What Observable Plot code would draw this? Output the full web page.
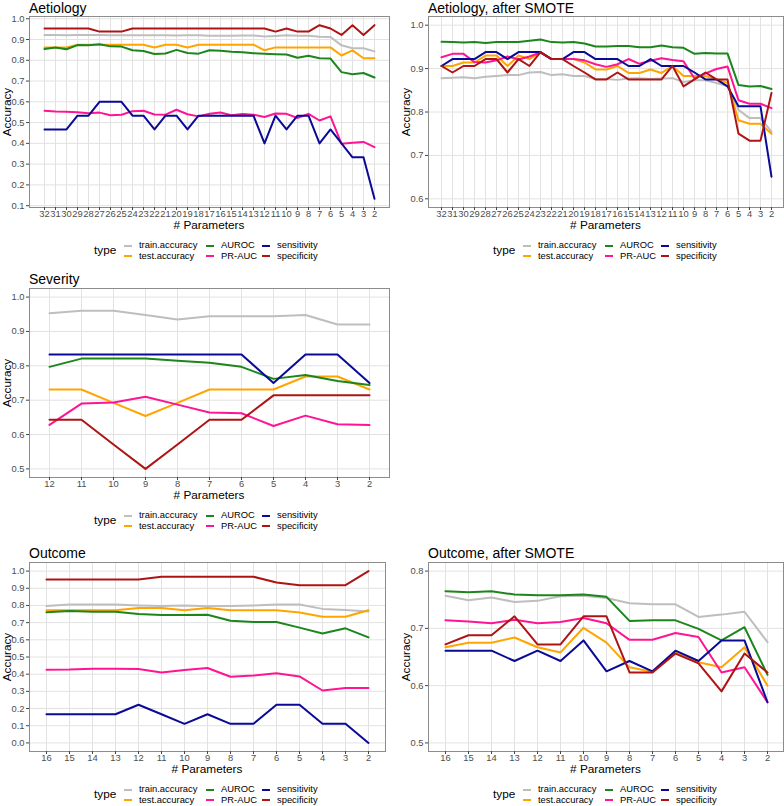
<!DOCTYPE html>
<html>
<head>
<meta charset="utf-8">
<script src="https://cdn.jsdelivr.net/npm/d3@7"></script>
<script src="https://cdn.jsdelivr.net/npm/@observablehq/plot@0.6"></script>
<style>
  body { margin: 0; background: #fff; }
  #root { position: relative; width: 784px; height: 806px; overflow: hidden; background: #fff;
          font-family: "Liberation Sans", Arial, Helvetica, sans-serif; color: #000; }
  .abs { position: absolute; white-space: nowrap; }
</style>
</head>
<body>
<div id="root"></div>
<script>
// ---------- series types ----------
const types = ["train.accuracy", "test.accuracy", "AUROC", "PR-AUC", "sensitivity", "specificity"];
const typeColors = ["#BEBEBE", "#FFA500", "#1C861C", "#FF1493", "#0A0A96", "#AE1414"];

// ---------- Aetiology ----------
const aetParams = [32,31,30,29,28,27,26,25,24,23,22,21,20,19,18,17,16,15,14,13,12,11,10,9,8,7,6,5,4,3,2];
const aetTrain = [0.922,0.922,0.921,0.922,0.922,0.922,0.921,0.921,0.920,0.920,0.920,0.920,0.919,0.920,0.921,0.918,0.918,0.918,0.919,0.919,0.915,0.917,0.920,0.918,0.918,0.913,0.912,0.872,0.858,0.858,0.843];
const aetTest  = [0.862,0.862,0.862,0.875,0.875,0.875,0.875,0.875,0.875,0.875,0.862,0.875,0.875,0.862,0.875,0.875,0.875,0.875,0.875,0.875,0.848,0.862,0.862,0.862,0.862,0.862,0.862,0.823,0.848,0.810,0.810];
const aetAuroc = [0.854,0.862,0.853,0.873,0.872,0.877,0.867,0.866,0.848,0.845,0.830,0.833,0.850,0.835,0.832,0.848,0.846,0.841,0.839,0.834,0.831,0.829,0.828,0.812,0.822,0.810,0.808,0.743,0.733,0.739,0.717];
const aetPr    = [0.557,0.553,0.552,0.550,0.545,0.548,0.535,0.538,0.555,0.557,0.539,0.538,0.562,0.540,0.530,0.543,0.549,0.535,0.541,0.538,0.527,0.544,0.542,0.522,0.542,0.510,0.530,0.398,0.403,0.407,0.382];
const aetSens  = [0.467,0.467,0.467,0.533,0.533,0.600,0.600,0.600,0.533,0.533,0.467,0.533,0.533,0.467,0.533,0.533,0.533,0.533,0.533,0.533,0.400,0.533,0.467,0.533,0.533,0.400,0.467,0.400,0.333,0.333,0.133];
const aetSpec  = [0.953,0.953,0.953,0.953,0.953,0.938,0.938,0.938,0.953,0.953,0.953,0.953,0.953,0.953,0.953,0.953,0.953,0.953,0.953,0.953,0.953,0.938,0.953,0.938,0.938,0.969,0.953,0.922,0.969,0.922,0.969];
const aetTicks = [0.1,0.2,0.3,0.4,0.5,0.6,0.7,0.8,0.9,1.0];

// ---------- Aetiology, after SMOTE ----------
const smAetParams = [32,31,30,29,28,27,26,25,24,23,22,21,20,19,18,17,16,15,14,13,12,11,10,9,8,7,6,5,4,3,2];
const smAetTrain = [0.878,0.879,0.880,0.878,0.881,0.883,0.885,0.885,0.891,0.892,0.885,0.887,0.883,0.883,0.876,0.876,0.874,0.877,0.878,0.876,0.877,0.878,0.869,0.873,0.873,0.867,0.860,0.805,0.786,0.786,0.755];
const smAetTest  = [0.906,0.906,0.914,0.914,0.930,0.930,0.906,0.930,0.922,0.938,0.922,0.922,0.922,0.914,0.898,0.898,0.906,0.890,0.890,0.898,0.890,0.906,0.883,0.883,0.883,0.875,0.867,0.781,0.773,0.773,0.750];
const smAetAuroc = [0.962,0.961,0.960,0.961,0.959,0.961,0.961,0.961,0.964,0.967,0.961,0.960,0.961,0.958,0.951,0.951,0.952,0.952,0.949,0.949,0.953,0.949,0.948,0.934,0.936,0.935,0.935,0.862,0.859,0.860,0.853];
const smAetPr    = [0.926,0.934,0.934,0.915,0.914,0.919,0.928,0.921,0.928,0.937,0.922,0.922,0.922,0.919,0.910,0.904,0.910,0.922,0.911,0.918,0.924,0.920,0.917,0.877,0.889,0.899,0.905,0.827,0.819,0.819,0.809];
const smAetSens  = [0.906,0.922,0.922,0.922,0.938,0.938,0.922,0.938,0.938,0.938,0.922,0.922,0.938,0.938,0.922,0.922,0.922,0.906,0.906,0.922,0.906,0.906,0.906,0.891,0.875,0.875,0.859,0.813,0.813,0.813,0.651];
const smAetSpec  = [0.906,0.891,0.906,0.906,0.922,0.922,0.891,0.922,0.906,0.938,0.922,0.922,0.906,0.891,0.875,0.875,0.891,0.875,0.875,0.875,0.875,0.906,0.859,0.875,0.891,0.875,0.875,0.750,0.734,0.734,0.844];
const smAetTicks = [0.6,0.7,0.8,0.9,1.0];

// ---------- Severity ----------
const sevParams = [12,11,10,9,8,7,6,5,4,3,2];
const sevTrain = [0.953,0.960,0.960,0.948,0.935,0.944,0.944,0.944,0.948,0.920,0.920];
const sevTest  = [0.731,0.731,0.692,0.654,0.692,0.731,0.731,0.731,0.769,0.769,0.731];
const sevAuroc = [0.797,0.821,0.821,0.821,0.815,0.809,0.797,0.762,0.773,0.756,0.744];
const sevPr    = [0.628,0.690,0.693,0.710,0.687,0.664,0.662,0.625,0.655,0.630,0.628];
const sevSens  = [0.833,0.833,0.833,0.833,0.833,0.833,0.833,0.750,0.833,0.833,0.750];
const sevSpec  = [0.643,0.643,0.571,0.500,0.571,0.643,0.643,0.714,0.714,0.714,0.714];
const sevTicks = [0.5,0.6,0.7,0.8,0.9,1.0];

// ---------- Outcome ----------
const outParams = [16,15,14,13,12,11,10,9,8,7,6,5,4,3,2];
const outTrain = [0.797,0.805,0.805,0.805,0.800,0.797,0.800,0.795,0.797,0.800,0.805,0.805,0.780,0.773,0.765];
const outTest  = [0.772,0.772,0.772,0.772,0.785,0.785,0.772,0.785,0.772,0.772,0.772,0.759,0.734,0.734,0.772];
const outAuroc = [0.760,0.768,0.764,0.764,0.750,0.744,0.744,0.746,0.711,0.704,0.704,0.671,0.637,0.667,0.614];
const outPr    = [0.426,0.427,0.431,0.432,0.430,0.410,0.425,0.436,0.385,0.392,0.405,0.387,0.305,0.319,0.319];
const outSens  = [0.167,0.167,0.167,0.167,0.222,0.167,0.111,0.167,0.111,0.111,0.222,0.222,0.111,0.111,0.000];
const outSpec  = [0.951,0.951,0.951,0.951,0.951,0.967,0.967,0.967,0.967,0.967,0.934,0.918,0.918,0.918,1.000];
const outTicks = [0.0,0.1,0.2,0.3,0.4,0.5,0.6,0.7,0.8,0.9,1.0];

// ---------- Outcome, after SMOTE ----------
const smOutParams = [16,15,14,13,12,11,10,9,8,7,6,5,4,3,2];
const smOutTrain = [0.757,0.749,0.754,0.746,0.748,0.756,0.757,0.753,0.744,0.742,0.742,0.720,0.724,0.729,0.676];
const smOutTest  = [0.667,0.675,0.675,0.684,0.667,0.658,0.701,0.675,0.632,0.624,0.658,0.641,0.632,0.667,0.600];
const smOutAuroc = [0.765,0.763,0.765,0.759,0.758,0.758,0.759,0.755,0.713,0.714,0.714,0.699,0.679,0.702,0.619];
const smOutPr    = [0.714,0.712,0.709,0.715,0.709,0.711,0.718,0.709,0.680,0.680,0.692,0.685,0.623,0.632,0.571];
const smOutSens  = [0.661,0.661,0.661,0.643,0.661,0.643,0.679,0.625,0.643,0.625,0.661,0.643,0.679,0.679,0.571];
const smOutSpec  = [0.672,0.688,0.688,0.721,0.672,0.672,0.721,0.721,0.623,0.623,0.656,0.639,0.590,0.656,0.623];
const smOutTicks = [0.5,0.6,0.7,0.8];

// ---------- layout ----------
const FONT = '"Liberation Sans", Arial, Helvetica, sans-serif';
const panels = [
  { title: "Aetiology", params: aetParams, series: [aetTrain, aetTest, aetAuroc, aetPr, aetSens, aetSpec],
    ticks: aetTicks, limits: null, offX: 0, box: [29, 389, 16, 207] },
  { title: "Aetiology, after SMOTE", params: smAetParams, series: [smAetTrain, smAetTest, smAetAuroc, smAetPr, smAetSens, smAetSpec],
    ticks: smAetTicks, limits: [0.6, 1.0], offX: 392, box: [428, 783, 16, 207] },
  { title: "Severity", params: sevParams, series: [sevTrain, sevTest, sevAuroc, sevPr, sevSens, sevSpec],
    ticks: sevTicks, limits: [0.5, 1.0], offX: 0, box: [29, 389, 288, 477] },
  { title: "Outcome", params: outParams, series: [outTrain, outTest, outAuroc, outPr, outSens, outSpec],
    ticks: outTicks, limits: [0, 1], offX: 0, box: [29, 385, 562, 751] },
  { title: "Outcome, after SMOTE", params: smOutParams, series: [smOutTrain, smOutTest, smOutAuroc, smOutPr, smOutSens, smOutSpec],
    ticks: smOutTicks, limits: [0.5, 0.8], offX: 392, box: [428, 783, 562, 751] }
];

const root = document.getElementById("root");
function addDiv(text, css) {
  const d = document.createElement("div");
  d.className = "abs";
  d.textContent = text;
  Object.assign(d.style, css);
  root.appendChild(d);
  return d;
}

function makePanel(cfg) {
  const [bL, bR, bT, bB] = cfg.box;
  const rows = [];
  cfg.series.forEach((vals, k) => vals.forEach((v, i) => rows.push({ p: cfg.params[i], type: types[k], v })));
  const lim = cfg.limits || d3.extent(rows, d => d.v);
  const pad = (lim[1] - lim[0]) * 0.05;
  const ydom = [lim[0] - pad, lim[1] + pad];
  const W = 392, mTop = 10, mBottom = 16;
  const H = bB - bT + mTop + mBottom;

  const svg = Plot.plot({
    width: W, height: H,
    marginLeft: bL - cfg.offX, marginRight: cfg.offX + W - bR, marginTop: mTop, marginBottom: mBottom,
    style: { background: "transparent", fontFamily: FONT, fontSize: "9.4px", overflow: "visible" },
    x: { type: "point", domain: cfg.params, padding: 0.6, label: null },
    y: { domain: ydom, label: null },
    color: { domain: types, range: typeColors },
    marks: [
      Plot.gridX(cfg.params, { stroke: "#e2e2e2", strokeOpacity: 1, strokeWidth: 1 }),
      Plot.gridY(cfg.ticks, { stroke: "#e2e2e2", strokeOpacity: 1, strokeWidth: 1 }),
      Plot.line(rows, { x: "p", y: "v", z: "type", stroke: "type", strokeWidth: 2 }),
      Plot.frame({ stroke: "#8c8c8c", strokeWidth: 1 }),
      Plot.axisX(cfg.params, { tickSize: 3, tickPadding: 0, stroke: "#444", fill: "#4d4d4d", label: null }),
      Plot.axisY(cfg.ticks, { tickSize: 3, tickPadding: 2, tickFormat: d => d.toFixed(1), stroke: "#444", fill: "#4d4d4d", label: null })
    ]
  });
  const wrap = document.createElement("div");
  wrap.className = "abs";
  wrap.style.left = cfg.offX + "px";
  wrap.style.top = (bT - mTop) + "px";
  wrap.appendChild(svg);
  root.appendChild(wrap);

  // title
  addDiv(cfg.title, { left: bL + "px", top: Math.max(0, bT - 17.4) + "px", fontSize: "14px", lineHeight: "16px" });
  // x axis title
  addDiv("# Parameters", { left: ((bL + bR) / 2) + "px", top: (bB + 13.4) + "px", fontSize: "11.8px",
    lineHeight: "10px", transform: "translateX(-50%)" });
  // y axis title
  addDiv("Accuracy", { left: (bL - 22) + "px", top: ((bT + bB) / 2) + "px", fontSize: "11.8px",
    lineHeight: "10px", transform: "translate(-50%,-50%) rotate(-90deg)" });

  // legend
  const lx = bL + 65, ly = bB + 38.5;
  addDiv("type", { left: lx + "px", top: (ly - 1.8) + "px", fontSize: "11.8px", lineHeight: "12px" });
  const keyX = [lx + 30, lx + 112, lx + 168];
  types.forEach((t, k) => {
    const col = Math.floor(k / 2), row = k % 2;
    const y = ly + row * 10.5;
    const key = document.createElement("div");
    key.className = "abs";
    Object.assign(key.style, { left: keyX[col] + "px", top: (y - 1) + "px", width: "8px", height: "2px",
      background: typeColors[k] });
    root.appendChild(key);
    addDiv(t, { left: (keyX[col] + 15) + "px", top: (y - 5.3) + "px", fontSize: "9.4px", lineHeight: "10px" });
  });
}

panels.forEach(makePanel);
</script>
</body>
</html>
